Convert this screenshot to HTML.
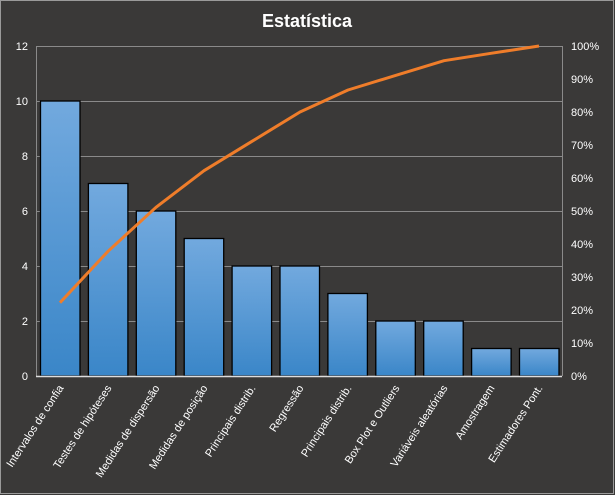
<!DOCTYPE html>
<html><head><meta charset="utf-8"><style>
html,body{margin:0;padding:0;background:#3a3938;}
svg{display:block;font-family:"Liberation Sans",sans-serif;}
</style></head><body>
<svg width="615" height="495" viewBox="0 0 615 495">
<defs><linearGradient id="g" x1="0" y1="0" x2="0" y2="1"><stop offset="0" stop-color="#72a9de"/><stop offset="1" stop-color="#3a86c8"/></linearGradient></defs>
<rect x="0.5" y="0.5" width="613" height="493" fill="#3a3938" stroke="#9a9a9a"/>
<text x="307" y="27" text-anchor="middle" fill="#fff" font-size="18" font-weight="bold">Estatística</text>
<g stroke="#8a8a8a" stroke-width="1">
<line x1="36" y1="46.5" x2="562" y2="46.5"/><line x1="36" y1="101.5" x2="562" y2="101.5"/><line x1="36" y1="156.5" x2="562" y2="156.5"/><line x1="36" y1="211.5" x2="562" y2="211.5"/><line x1="36" y1="266.5" x2="562" y2="266.5"/><line x1="36" y1="321.5" x2="562" y2="321.5"/>
<line x1="36.5" y1="46" x2="36.5" y2="376"/><line x1="562.5" y1="46" x2="562.5" y2="376"/>
</g>
<g fill="#fff" font-size="11" text-anchor="end">
<text x="28" y="50">12</text><text x="28" y="105">10</text><text x="28" y="160">8</text><text x="28" y="215">6</text><text x="28" y="270">4</text><text x="28" y="325">2</text><text x="28" y="380">0</text>
</g>
<g fill="#fff" font-size="11">
<text x="571" y="50">100%</text><text x="571" y="83">90%</text><text x="571" y="116">80%</text><text x="571" y="149">70%</text><text x="571" y="182">60%</text><text x="571" y="215">50%</text><text x="571" y="248">40%</text><text x="571" y="281">30%</text><text x="571" y="314">20%</text><text x="571" y="347">10%</text><text x="571" y="380">0%</text>
</g>
<g fill="url(#g)" stroke="#000" stroke-width="1.3">
<rect x="40.5" y="101" width="39.5" height="275"/>
<rect x="88.4" y="183.5" width="39.5" height="192.5"/>
<rect x="136.3" y="211" width="39.5" height="165"/>
<rect x="184.2" y="238.5" width="39.5" height="137.5"/>
<rect x="232.1" y="266" width="39.5" height="110"/>
<rect x="280" y="266" width="39.5" height="110"/>
<rect x="327.9" y="293.5" width="39.5" height="82.5"/>
<rect x="375.8" y="321" width="39.5" height="55"/>
<rect x="423.7" y="321" width="39.5" height="55"/>
<rect x="471.6" y="348.5" width="39.5" height="27.5"/>
<rect x="519.5" y="348.5" width="39.5" height="27.5"/>
</g>
<line x1="36" y1="376.5" x2="562" y2="376.5" stroke="#ddd" stroke-width="1.5"/>
<polyline fill="none" stroke="#ef7d2a" stroke-width="3" stroke-linejoin="round" points="60,302.7 108,251.3 156,207.3 204,170.7 252,141.3 300,112 348,90 396,75.3 444,60.7 491,53.3 539,46"/>
<g fill="#fff" font-size="11">
<text transform="translate(64,388) rotate(-57)" text-anchor="end">Intervalos de confia</text>
<text transform="translate(112,388) rotate(-57)" text-anchor="end">Testes de hipóteses</text>
<text transform="translate(160,388) rotate(-57)" text-anchor="end">Medidas de dispersão</text>
<text transform="translate(208,388) rotate(-57)" text-anchor="end">Medidas de posição</text>
<text transform="translate(256,388) rotate(-57)" text-anchor="end">Principais distrib.</text>
<text transform="translate(304,388) rotate(-57)" text-anchor="end">Regressão</text>
<text transform="translate(352,388) rotate(-57)" text-anchor="end">Principais distrib.</text>
<text transform="translate(400,388) rotate(-57)" text-anchor="end">Box Plot e Outliers</text>
<text transform="translate(448,388) rotate(-57)" text-anchor="end">Variáveis aleatórias</text>
<text transform="translate(495,388) rotate(-57)" text-anchor="end">Amostragem</text>
<text transform="translate(543,388) rotate(-57)" text-anchor="end">Estimadores Pont.</text>
</g>
</svg>
</body></html>
